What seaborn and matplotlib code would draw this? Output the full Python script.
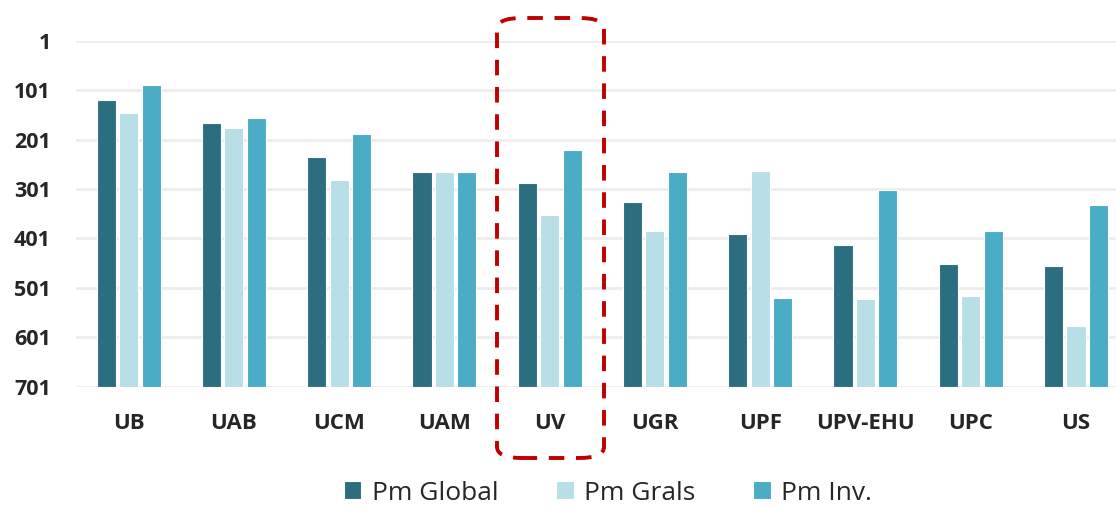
import matplotlib
matplotlib.use('Agg')
import matplotlib.pyplot as plt
import seaborn as sns
import pandas as pd
from matplotlib.patches import FancyBboxPatch

# datos (posicion en el ranking, 1 = mejor)
universidades = ['UB', 'UAB', 'UCM', 'UAM', 'UV', 'UGR', 'UPF', 'UPV-EHU', 'UPC', 'US']
pm_global = [120, 168, 236, 267, 288, 327, 393, 414, 452, 456]
pm_grals = [148, 178, 283, 267, 354, 387, 264, 523, 518, 578]
pm_inv = [91, 157, 190, 267, 223, 267, 522, 304, 386, 334]
series = ['Pm Global', 'Pm Grals', 'Pm Inv.']
ticks_rank = [1, 101, 201, 301, 401, 501, 601, 701]
peor = 701

colores = ['#2A6E80', '#B8DEE7', '#4BACC6']

filas = []
for s, vals in zip(series, [pm_global, pm_grals, pm_inv]):
    for u, v in zip(universidades, vals):
        filas.append({'uni': u, 'serie': s, 'rank': v})
df = pd.DataFrame(filas)
df['altura'] = peor - df['rank']  # eje invertido: barras crecen desde 701

sns.set_style('white')
plt.rcParams['font.family'] = ['Open Sans', 'DejaVu Sans']

fig = plt.figure(figsize=(11.16, 5.08), dpi=100)
ax = fig.add_axes([76 / 1116, (508 - 386.7) / 508, (1116 - 76) / 1116, 346 / 508])

sns.barplot(data=df, x='uni', y='altura', hue='serie', palette=colores,
            width=0.64, gap=0.15, edgecolor='white', linewidth=0.8,
            saturation=1, ax=ax, zorder=3)

ax.set_ylim(0, peor - 1)
ax.set_xlim(-0.5, 9.38)
ax.set_yticks([peor - t for t in ticks_rank])
ax.set_yticklabels([str(t) for t in ticks_rank], fontsize=15.5, fontweight='bold')
ax.tick_params(axis='y', length=0, pad=18)
ax.tick_params(axis='x', length=0, pad=19)
for lab in ax.get_xticklabels():
    lab.set_fontsize(16)
    lab.set_fontweight('bold')
ax.set_xlabel('')
ax.set_ylabel('')
ax.grid(axis='y', color='#EDEDED', linewidth=2, zorder=0)
ax.set_axisbelow(True)
sns.despine(ax=ax, left=True, bottom=True)

ax.legend(loc='center', bbox_to_anchor=(608 / 1116, 1 - 493 / 508),
          bbox_transform=fig.transFigure, ncol=3, frameon=False,
          fontsize=19, handlelength=0.65, handleheight=0.65,
          handletextpad=0.4, columnspacing=2.2)

# recuadro destacado alrededor de UV
rect = FancyBboxPatch((497 / 1116, 1 - 458 / 508), 107 / 1116, 440 / 508,
                      boxstyle='round,pad=0,rounding_size=0.022',
                      transform=fig.transFigure, fill=False,
                      edgecolor='#C00000', linewidth=2.8,
                      linestyle=(0, (4, 3)), clip_on=False, zorder=10)
fig.patches.append(rect)

plt.savefig('out.png', dpi=100)
